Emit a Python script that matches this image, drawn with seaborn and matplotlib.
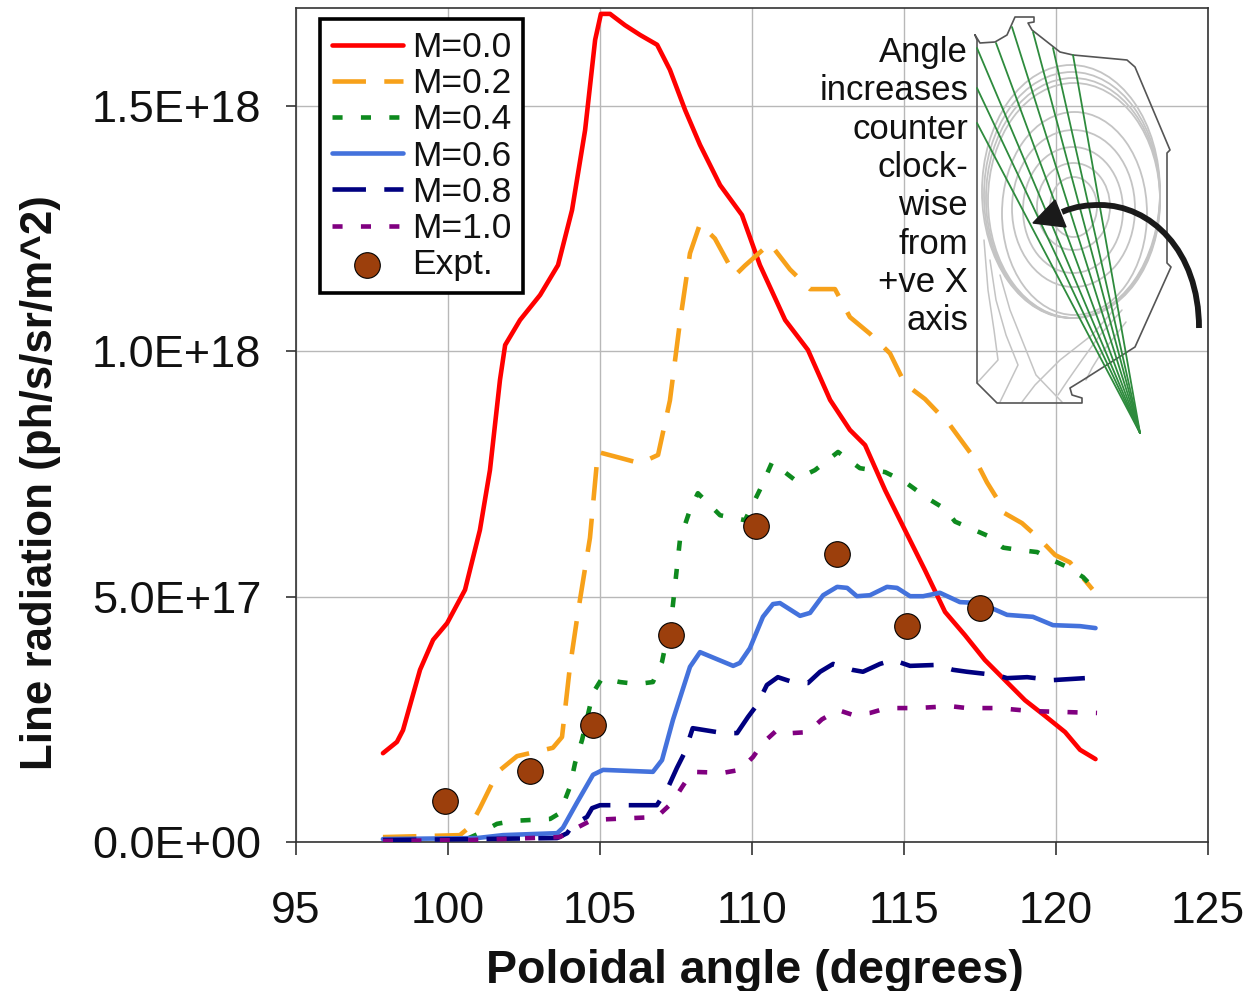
import matplotlib
matplotlib.use('Agg')
import matplotlib.pyplot as plt
from matplotlib.patches import Ellipse, PathPatch, Polygon
from matplotlib.path import Path
import numpy as np
import seaborn as sns

# values, y in units of 1E+17
x_m00 = [97.86, 98.32, 98.52, 99.08, 99.51, 99.97, 100.56, 101.05, 101.38, 101.71, 101.88, 102.37, 103.03, 103.62,
         104.08, 104.51, 104.84, 105.03, 105.33, 105.82, 106.32, 106.88, 107.3, 107.8, 108.29, 108.95, 109.67, 110.26,
         111.09, 111.84, 112.57, 113.22, 113.72, 114.38, 115.03, 115.69, 116.35, 117.0, 117.66, 118.32, 118.98, 119.64,
         120.3, 120.79, 121.3]
y_m00 = [1.81, 2.04, 2.28, 3.51, 4.12, 4.46, 5.14, 6.36, 7.58, 9.42, 10.13, 10.64, 11.15, 11.76,
         12.88, 14.51, 16.35, 16.88, 16.88, 16.65, 16.45, 16.25, 15.74, 14.92, 14.21, 13.39, 12.78, 11.76,
         10.64, 10.03, 9.01, 8.40, 8.09, 7.17, 6.36, 5.54, 4.69, 4.22, 3.71, 3.30, 2.89, 2.57,
         2.24, 1.88, 1.69]

x_m02 = [97.86, 100.39, 100.72, 101.05, 101.64, 102.27, 103.45, 103.75, 104.01, 104.28, 104.67, 104.93, 105.66, 106.32,
         106.91, 107.3, 107.63, 107.96, 108.29, 108.78, 109.44, 109.77, 110.59, 111.25, 111.91, 112.73, 113.22, 113.88,
         114.54, 115.03, 115.69, 116.51, 117.34, 117.73, 118.06, 118.26, 118.88, 119.24, 119.64, 119.97, 120.46, 121.2]
y_m02 = [0.10, 0.14, 0.31, 0.69, 1.43, 1.75, 1.92, 2.14, 3.57, 4.70, 6.2, 7.95, 7.83, 7.72,
         7.89, 9.0, 10.6, 12.0, 12.6, 12.3, 11.55, 11.75, 12.2, 11.67, 11.27, 11.27, 10.7, 10.36,
         9.96, 9.34, 9.03, 8.5, 7.8, 7.33, 7.0, 6.72, 6.5, 6.3, 6.06, 5.85, 5.7, 5.15]

x_m04 = [97.86, 100.39, 101.05, 101.61, 102.14, 103.36, 103.68, 104.01, 104.18, 104.41, 104.77, 105.07, 105.66, 106.22,
         106.74, 107.04, 107.37, 107.63, 107.96, 108.22, 108.95, 109.77, 110.26, 110.66, 111.41, 112.07, 112.83, 113.55,
         114.38, 115.03, 115.79, 116.35, 116.68, 117.24, 117.76, 118.26, 118.82, 119.38, 119.87, 120.39, 120.89, 121.2]
y_m04 = [0.0, 0.0, 0.18, 0.37, 0.43, 0.47, 0.59, 1.12, 1.61, 2.08, 3.04, 3.34, 3.26, 3.22,
         3.26, 3.67, 4.67, 6.16, 6.77, 7.11, 6.66, 6.56, 7.18, 7.74, 7.38, 7.58, 7.95, 7.62,
         7.54, 7.34, 7.0, 6.79, 6.53, 6.38, 6.24, 6.0, 5.95, 5.91, 5.75, 5.6, 5.4, 5.2]

x_m06 = [97.86, 100.95, 101.81, 103.59, 103.78, 104.24, 104.77, 105.1, 106.74, 107.04, 107.4, 107.96, 108.29, 109.38,
         109.6, 109.93, 110.36, 110.69, 110.92, 111.58, 111.91, 112.34, 112.8, 113.13, 113.45, 113.88, 114.44, 114.77,
         115.2, 115.63, 116.18, 116.84, 117.5, 118.39, 119.24, 119.9, 120.79, 121.3]
y_m06 = [0.06, 0.08, 0.14, 0.18, 0.29, 0.8, 1.37, 1.47, 1.43, 1.67, 2.49, 3.57, 3.87, 3.59,
         3.65, 3.95, 4.59, 4.85, 4.87, 4.61, 4.67, 5.03, 5.2, 5.18, 5.01, 5.03, 5.2, 5.18,
         5.01, 5.01, 5.08, 4.89, 4.87, 4.63, 4.59, 4.42, 4.4, 4.36]

x_m08 = [97.86, 100.95, 103.59, 103.92, 104.11, 104.57, 104.74, 105.0, 106.87, 107.2, 107.53, 107.79, 108.05, 109.05,
         109.51, 109.87, 110.16, 110.49, 110.85, 111.34, 111.84, 112.24, 112.67, 113.29, 113.65, 114.21, 114.64, 115.2,
         116.09, 116.61, 117.07, 118.06, 118.39, 119.05, 119.9, 120.95]
y_m08 = [0.04, 0.06, 0.08, 0.18, 0.35, 0.51, 0.69, 0.75, 0.75, 1.06, 1.51, 1.83, 2.32, 2.22,
         2.22, 2.55, 2.79, 3.2, 3.36, 3.26, 3.24, 3.47, 3.63, 3.51, 3.47, 3.63, 3.71, 3.59,
         3.61, 3.51, 3.47, 3.4, 3.34, 3.36, 3.3, 3.34]

x_m10 = [97.86, 100.72, 103.68, 104.24, 104.74, 106.87, 107.37, 107.7, 108.03, 109.05, 109.6, 110.03, 110.36, 110.82,
         111.31, 111.84, 112.3, 112.83, 113.32, 113.88, 114.44, 115.43, 116.51, 117.07, 118.09, 119.15, 121.35]
y_m10 = [0.02, 0.04, 0.1, 0.29, 0.45, 0.51, 0.8, 1.12, 1.43, 1.41, 1.47, 1.73, 2.02, 2.28,
         2.22, 2.24, 2.5, 2.69, 2.59, 2.63, 2.73, 2.73, 2.77, 2.73, 2.73, 2.67, 2.63]

x_expt = [99.9, 102.7, 104.77, 107.34, 110.13, 112.8, 115.1, 117.5]
y_expt = [0.84, 1.45, 2.38, 4.22, 6.44, 5.87, 4.4, 4.77]

x_ticks = [95, 100, 105, 110, 115, 120, 125]
y_ticks = [0, 5, 10, 15]
y_tick_labels = ['0.0E+00', '5.0E+17', '1.0E+18', '1.5E+18']

note_lines = ['Angle', 'increases', 'counter', 'clock-', 'wise', 'from', '+ve X', 'axis']

# inset sketch, in picture pixels
vessel_x = [975, 980, 995, 1007, 1015, 1034, 1034, 1028, 1032, 1060, 1073, 1127, 1135, 1170, 1167, 1167, 1171, 1135,
            1083, 1070, 1072, 1082, 1082, 997, 977, 977, 975]
vessel_y = [35, 43, 42, 35, 17, 17, 22, 23, 30, 52, 55, 60, 67, 150, 153, 263, 267, 347,
            380, 388, 395, 398, 403, 403, 383, 40, 35]
fan_end_x = [977, 977, 977, 996, 1012, 1033, 1053, 1073]
fan_end_y = [48, 88, 123, 43, 27, 32, 48, 55]
surface_cx = [1073.5, 1073.5, 1073, 1073.5, 1074.5, 1071, 1072, 1073, 1074]
surface_cy = [207, 206.5, 210, 208.5, 213.5, 191.5, 195, 198, 200.5]
surface_w = [47, 73, 100, 123, 145, 178, 176, 174, 172]
surface_h = [60, 87, 126, 157, 203, 253, 246, 240, 235]
arrow_x = [1199, 1199, 1150, 1100, 1088, 1076, 1062]
arrow_y = [328, 250, 205, 205, 205, 206, 212]
head_x = [1033, 1055, 1066]
head_y = [223, 200, 227]
leg_x = [[984, 988, 994, 998, 977], [990, 996, 1006, 1018, 1000], [1000, 1010, 1024, 1036, 1062],
         [1118, 1092, 1060, 1035, 1022], [1122, 1100, 1082, 1068, 1058], [1126, 1112, 1100, 1092, 1086]]
leg_y = [[240, 290, 330, 360, 383], [260, 300, 335, 365, 402], [275, 310, 345, 375, 402],
         [305, 335, 360, 385, 402], [310, 335, 360, 380, 395], [322, 340, 355, 368, 380]]

series = [
    ('M=0.0', x_m00, y_m00, '#FF0000', '-', 3.3),
    ('M=0.2', x_m02, y_m02, '#F7A11A', (0, (7.3, 4.0)), 3.3),
    ('M=0.4', x_m04, y_m04, '#0E8A1E', (0, (2.2, 4.0)), 3.3),
    ('M=0.6', x_m06, y_m06, '#4472DC', '-', 3.3),
    ('M=0.8', x_m08, y_m08, '#000080', (0, (7.3, 4.0)), 3.3),
    ('M=1.0', x_m10, y_m10, '#800080', (0, (2.2, 4.0)), 3.3),
]

sns.set_theme(style='whitegrid')
plt.rcParams['font.family'] = ['Liberation Sans', 'DejaVu Sans']
plt.rcParams['lines.solid_joinstyle'] = 'round'
plt.rcParams['lines.dash_joinstyle'] = 'round'

fig = plt.figure(figsize=(12.5, 9.91), dpi=100)
ax = fig.add_axes([296 / 1250, 1 - 842 / 991, 912 / 1250, 834 / 991])

for name, xs, ys, colour, style, width in series:
    sns.lineplot(x=xs, y=ys, color=colour, linestyle=style, linewidth=width, sort=False,
                 estimator=None, label=name, ax=ax, zorder=3)
sns.scatterplot(x=x_expt, y=y_expt, color='#9C3F0C', edgecolor='black', linewidth=0.8, s=340,
                label='Expt.', ax=ax, zorder=4)

ax.set_xlim(95, 125)
ax.set_ylim(0, 17)
ax.set_xticks(x_ticks)
ax.set_yticks(y_ticks)
ax.set_yticklabels(y_tick_labels)
ax.tick_params(axis='x', length=9, width=1.2, color='#333333', labelsize=32, pad=26, labelcolor='#111111', bottom=True)
ax.tick_params(axis='y', length=7, width=1.2, color='#333333', labelsize=32.5, pad=18, labelcolor='#111111', left=True)
ax.grid(True, color='#b8b8b8', linewidth=1.0)
ax.set_axisbelow(True)
for side in ax.spines:
    ax.spines[side].set_color('#333333')
    ax.spines[side].set_linewidth(1.2)

ax.set_xlabel('Poloidal angle (degrees)', fontsize=33.5, fontweight='bold', color='#111111')
ax.set_ylabel('Line radiation (ph/s/sr/m^2)', fontsize=31.6, fontweight='bold', color='#111111')
ax.xaxis.set_label_coords(0.503, -0.128)
ax.yaxis.set_label_coords(-0.258, 0.431)

legend = ax.legend(loc='upper left', bbox_to_anchor=(24 / 912, 1 - 11 / 834), fontsize=25.5, fancybox=False,
                   framealpha=1, edgecolor='black', handlelength=2.0, handletextpad=0.25, labelspacing=0.09,
                   borderpad=0.34, borderaxespad=0, labelcolor='#111111')
legend.get_frame().set_linewidth(2.6)
legend.set_zorder(6)

# overlay in pixel coordinates for the tokamak sketch
sketch = fig.add_axes([0, 0, 1, 1], facecolor='none')
sketch.set_xlim(0, 1250)
sketch.set_ylim(991, 0)
sketch.axis('off')

for cx, cy, w, h in zip(surface_cx, surface_cy, surface_w, surface_h):
    sketch.add_patch(Ellipse((cx, cy), w, h, fill=False, edgecolor='#c4c4c4', linewidth=1.3))
for lx, ly in zip(leg_x, leg_y):
    sketch.plot(lx, ly, color='#c4c4c4', linewidth=1.1)
sketch.plot(vessel_x, vessel_y, color='#555555', linewidth=1.2)
for ex, ey in zip(fan_end_x, fan_end_y):
    sketch.plot([1140, ex], [433, ey], color='#2E8B3D', linewidth=1.3)

arc = Path(np.column_stack([arrow_x, arrow_y]),
           [Path.MOVETO, Path.CURVE4, Path.CURVE4, Path.CURVE4, Path.CURVE4, Path.CURVE4, Path.CURVE4])
sketch.add_patch(PathPatch(arc, fill=False, edgecolor='#1a1a1a', linewidth=4.2, capstyle='butt', zorder=5))
sketch.add_patch(Polygon(np.column_stack([head_x, head_y]), closed=True, color='#1a1a1a', zorder=5))

for i, line in enumerate(note_lines):
    sketch.text(968, 52.5 + i * 38.3, line, ha='right', va='center', fontsize=25, color='#111111')

fig.savefig('out.png', dpi=100)
